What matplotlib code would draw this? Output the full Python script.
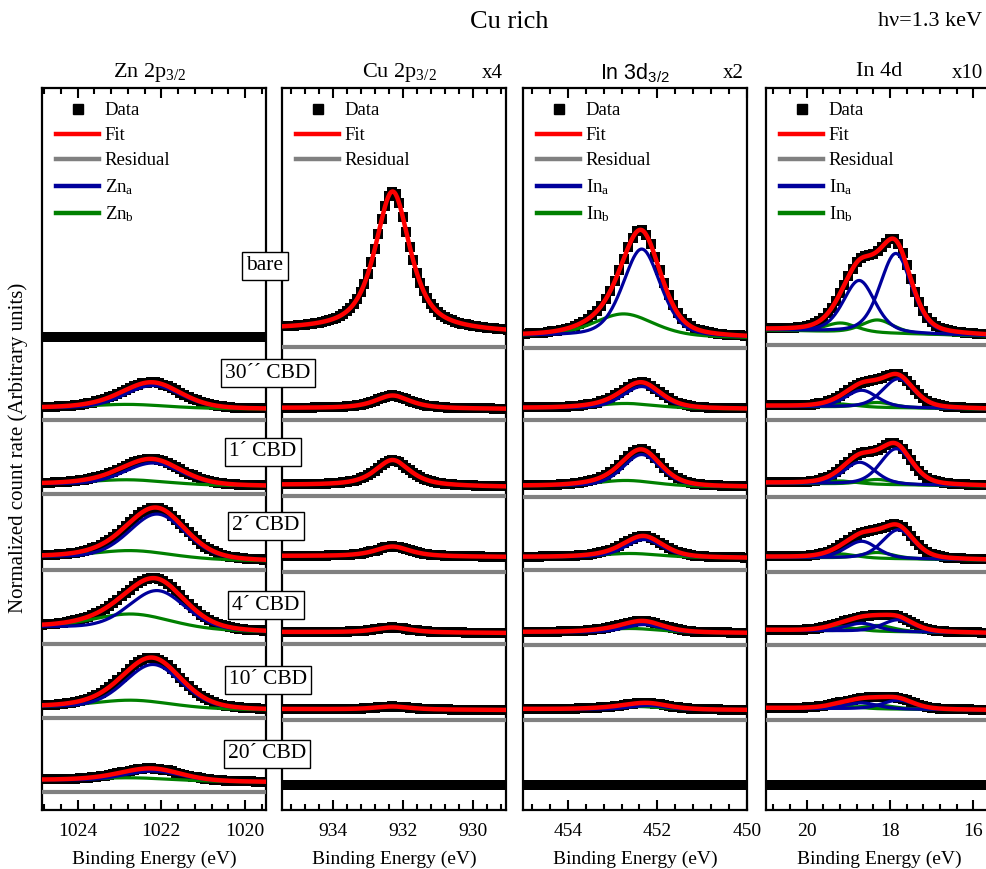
import numpy as np
import matplotlib.pyplot as plt
from matplotlib.lines import Line2D
from matplotlib.ticker import MultipleLocator

plt.rcParams['font.family'] = ['Liberation Serif', 'DejaVu Serif']
plt.rcParams['mathtext.fontset'] = 'custom'
plt.rcParams['mathtext.rm'] = 'Liberation Serif'
plt.rcParams['mathtext.it'] = 'Liberation Serif:italic'
plt.rcParams['mathtext.sf'] = 'Liberation Sans'

samples = ['bare', '30´´ CBD', '1´ CBD', '2´ CBD', '4´ CBD', '10´ CBD', '20´ CBD']
label_y = [544, 437, 358, 284, 205, 130, 56]          # label box centres (y units)
label_x = [265, 268, 263, 266, 266, 268, 267]          # label box centres (pixels)

# ---------------- Zn 2p3/2 ----------------
zn_fitted = [False, True, True, True, True, True, True]
zn_bg_left = [473, 402, 326, 253, 183, 103, 30]
zn_bg_right = [473, 401, 324, 249, 178, 100, 28]
zn_resid = [473, 390, 316, 240, 166, 92, 18]
zn_a_center = [1022.2, 1022.2, 1022.2, 1022.1, 1022.1, 1022.2, 1022.2]
zn_a_height = [0, 23, 22, 45, 39, 44, 10]
zn_a_fwhm = 1.6
zn_b_center = [1022.8, 1022.8, 1022.8, 1022.7, 1022.7, 1022.7, 1022.7]
zn_b_height = [0, 4, 5, 8, 15, 8, 3]
zn_b_fwhm = 2.2

# ---------------- Cu 2p3/2 ----------------
cu_fitted = [True, True, True, True, True, True, False]
cu_bg_left = [480, 402, 325, 254, 178, 101, 25]
cu_bg_right = [477, 401, 323, 253, 177, 100, 25]
cu_resid = [463, 390, 314, 238, 166, 90, 25]
cu_center = [932.3, 932.3, 932.3, 932.3, 932.3, 932.3, 932.3]
cu_height = [140, 13, 26, 10, 5, 3, 0]
cu_fwhm = 1.2

# ---------------- In 3d3/2 ----------------
in3_fitted = [True, True, True, True, True, True, False]
in3_bg_left = [474, 402, 324, 253, 178, 101, 25]
in3_bg_right = [472, 401, 323, 252, 177, 100, 25]
in3_resid = [462, 390, 313, 240, 165, 90, 25]
in3_a_center = [452.35, 452.35, 452.35, 452.3, 452.3, 452.2, 452.2]
in3_a_height = [88, 22, 32, 18, 8, 4, 0]
in3_a_fwhm = 1.0
in3_b_center = [452.75, 452.7, 452.7, 452.6, 452.6, 452.5, 452.5]
in3_b_height = [23, 5, 6, 4, 4, 3, 0]
in3_b_fwhm = 1.6

# ---------------- In 4d (4d5/2 and 4d3/2 doublets) ----------------
in4_fitted = [True, True, True, True, True, True, False]
in4_bg_left = [480, 404, 327, 253, 180, 102, 25]
in4_bg_right = [474, 401, 324, 250, 177, 100, 25]
in4_resid = [465, 390, 313, 238, 165, 90, 25]
in4_a_center = [17.86, 17.8, 17.85, 17.8, 17.8, 17.8, 17.8]
in4_a_height = [80, 29, 36, 29, 12, 9, 0]
in4_a2_height = [52, 17, 22, 17, 8, 6, 0]
in4_b_center = [18.3, 18.3, 18.3, 18.3, 18.3, 18.3, 18.3]
in4_b_height = [13, 5, 5, 6, 6, 4, 0]
in4_b2_height = [9, 3, 3, 4, 4, 3, 0]
in4_fwhm = 0.9
in4_split = 0.88

RED, GRAY, BLUE, GREEN = '#ff0000', '#808080', '#00009c', '#008000'


def peak(x, c, h, w, eta):
    """Pseudo-Voigt line of height h, centre c and full width w."""
    g = np.exp(-4 * np.log(2) * ((x - c) / w) ** 2)
    l = 1.0 / (1.0 + 4 * ((x - c) / w) ** 2)
    return h * (eta * l + (1 - eta) * g)


def draw_spectra(ax, xlim, fitted, bg_l, bg_r, resid, comp_list, eta):
    """comp_list: (centres, heights, fwhm, colour) for every single line."""
    lo, hi = min(xlim), max(xlim)
    x = np.arange(lo - 0.05, hi + 0.1, 0.02)
    xd = np.arange(lo - 0.05, hi + 0.1, 0.1)
    for i in range(len(samples)):
        def bg(xx):
            return bg_r[i] + (bg_l[i] - bg_r[i]) * (xx - lo) / (hi - lo)
        if not fitted[i]:
            ax.plot(xd, bg(xd), 's', color='black', ms=7, mew=0, zorder=2)
            continue
        model_d = bg(xd) + sum(peak(xd, c[i], h[i], w, eta) for c, h, w, _ in comp_list)
        model = bg(x) + sum(peak(x, c[i], h[i], w, eta) for c, h, w, _ in comp_list)
        ax.plot(xd, model_d, 's', color='black', ms=7, mew=0, zorder=2)
        ax.plot(x, np.full_like(x, resid[i]), color=GRAY, lw=3, zorder=3)
        for c, h, w, col in comp_list[::-1]:
            if col is not None:
                ax.plot(x, bg(x) + peak(x, c[i], h[i], w, eta), color=col, lw=2.3, zorder=4)
        ax.plot(x, model, color=RED, lw=3.2, zorder=5)


fig = plt.figure(figsize=(9.87, 8.69), dpi=100)
W, H = 987, 869


def add_ax(x0, x1):
    return fig.add_axes([x0 / W, (H - 810) / H, (x1 - x0) / W, 722 / H])


ax1 = add_ax(42, 266)
ax2 = add_ax(282, 506)
ax3 = add_ax(523, 747)
ax4 = add_ax(766, 992)

lims = [(1024.85, 1019.5), (935.46, 929.06), (455.0, 450.0), (20.98, 15.55)]

draw_spectra(ax1, lims[0], zn_fitted, zn_bg_left, zn_bg_right, zn_resid,
             [(zn_a_center, zn_a_height, zn_a_fwhm, BLUE),
              (zn_b_center, zn_b_height, zn_b_fwhm, GREEN)], 0.25)
draw_spectra(ax2, lims[1], cu_fitted, cu_bg_left, cu_bg_right, cu_resid,
             [(cu_center, cu_height, cu_fwhm, None)], 0.75)
draw_spectra(ax3, lims[2], in3_fitted, in3_bg_left, in3_bg_right, in3_resid,
             [(in3_a_center, in3_a_height, in3_a_fwhm, BLUE),
              (in3_b_center, in3_b_height, in3_b_fwhm, GREEN)], 0.4)
in4_a2_center = [c + in4_split for c in in4_a_center]
in4_b2_center = [c + in4_split for c in in4_b_center]
draw_spectra(ax4, lims[3], in4_fitted, in4_bg_left, in4_bg_right, in4_resid,
             [(in4_a_center, in4_a_height, in4_fwhm, BLUE),
              (in4_a2_center, in4_a2_height, in4_fwhm, BLUE),
              (in4_b_center, in4_b_height, in4_fwhm, GREEN),
              (in4_b2_center, in4_b2_height, in4_fwhm, GREEN)], 0.35)

for ax, lim in zip([ax1, ax2, ax3, ax4], lims):
    ax.set_xlim(*lim)
    ax.set_ylim(0, 722)
    ax.xaxis.set_major_locator(MultipleLocator(2))
    ax.xaxis.set_minor_locator(MultipleLocator(0.4))
    ax.tick_params(axis='x', which='both', direction='in', top=True, bottom=True,
                   labelsize=14, width=1.5, pad=9)
    ax.tick_params(axis='x', which='major', length=7)
    ax.tick_params(axis='x', which='minor', length=4)
    ax.set_yticks([])
    for s in ax.spines.values():
        s.set_linewidth(1.6)
    ax.set_xlabel('Binding Energy (eV)', fontsize=14, labelpad=8)


def legend(ax, comp_names):
    handles = [Line2D([], [], marker='s', ls='none', color='black', ms=7),
               Line2D([], [], color=RED, lw=3.2),
               Line2D([], [], color=GRAY, lw=3.2)]
    labels = ['Data', 'Fit', 'Residual']
    for name, col in zip(comp_names, [BLUE, GREEN]):
        handles.append(Line2D([], [], color=col, lw=3.2))
        labels.append(name)
    ax.legend(handles, labels, loc='upper left', frameon=False, fontsize=13.5,
              handlelength=2.3, handletextpad=0.3, labelspacing=0.42,
              borderaxespad=0.55, borderpad=0.2)


legend(ax1, [r'Zn$_\mathregular{a}$', r'Zn$_\mathregular{b}$'])
legend(ax2, [])
legend(ax3, [r'In$_\mathregular{a}$', r'In$_\mathregular{b}$'])
legend(ax4, [r'In$_\mathregular{a}$', r'In$_\mathregular{b}$'])

# titles
fig.text(509 / W, 1 - 22 / H, 'Cu rich', ha='center', va='center', fontsize=19)
fig.text(930 / W, 1 - 22 / H, 'hν=1.3 keV', ha='center', va='center', fontsize=16)
fig.text(150 / W, 1 - 72 / H, r'Zn 2p$_\mathregular{3/2}$', ha='center', va='center', fontsize=16)
fig.text(399 / W, 1 - 72 / H, r'Cu 2p$_\mathregular{3/2}$', ha='center', va='center', fontsize=16)
fig.text(635 / W, 1 - 72 / H, r'In 3d$_\mathsf{3/2}$', ha='center', va='center', fontsize=15.5,
         family=['Liberation Sans'])
fig.text(879 / W, 1 - 72 / H, 'In 4d', ha='center', va='center', fontsize=16)
fig.text(492 / W, 1 - 74 / H, 'x4', ha='center', va='center', fontsize=15)
fig.text(733 / W, 1 - 74 / H, 'x2', ha='center', va='center', fontsize=15)
fig.text(967 / W, 1 - 74 / H, 'x10', ha='center', va='center', fontsize=15)
fig.text(18 / W, 1 - 448 / H, 'Normalized count rate (Arbitrary units)', rotation=90,
         ha='center', va='center', fontsize=15)

# sample labels in the gap between the first two panels
for name, lx, ly in zip(samples, label_x, label_y):
    fig.text(lx / W, ((H - 810) + ly) / H, name, ha='center', va='center', fontsize=15.5,
             bbox=dict(boxstyle='square,pad=0.2', fc='white', ec='black', lw=1))

fig.savefig('out.png', dpi=100)
